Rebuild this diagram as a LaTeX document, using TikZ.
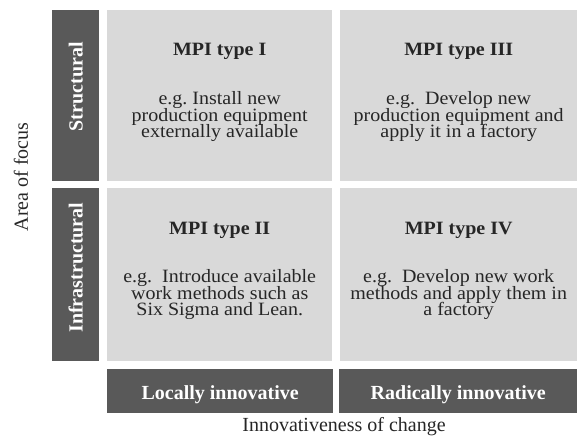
\documentclass[tikz,border=0pt]{standalone}
\usepackage{fontspec}
\setmainfont{Liberation Serif}
\usepackage{tikz}
\usetikzlibrary{positioning,calc}
\definecolor{cellfill}{HTML}{D9D9D9}
\definecolor{barfill}{HTML}{595959}
\definecolor{inktext}{HTML}{262626}
\frenchspacing
\newcommand\cellfont{\fontsize{20}{18}\selectfont\lineskiplimit=-50pt\relax}
\tikzset{
  cell/.style    = {fill=cellfill,inner sep=0pt,anchor=north west},
  bar/.style     = {fill=barfill,inner sep=0pt,anchor=north west},
  head/.style    = {anchor=base,inner sep=0pt,text=inktext,
                    yscale=0.94,transform shape,font=\cellfont\bfseries},
  % base of a multi-line node sits on its last line
  body/.style    = {anchor=base,inner sep=0pt,align=center,text=inktext,
                    yscale=0.94,transform shape,font=\cellfont},
  barlbl/.style  = {inner sep=0pt,text=white,font=\cellfont\bfseries},
  axlbl/.style   = {inner sep=0pt,text=inktext,font=\cellfont},
}

\begin{document}
\begin{tikzpicture}[x=1pt,y=-1pt]
  \useasboundingbox (0,0) rectangle (578,443);

  % Quadrants
  \node[cell,minimum width=225pt,minimum height=171pt] (cellI)   at (107,10)  {};
  \node[cell,minimum width=237pt,minimum height=171pt] (cellIII) at (340,10)  {};
  \node[cell,minimum width=225pt,minimum height=173pt] (cellII)  at (107,188) {};
  \node[cell,minimum width=237pt,minimum height=173pt] (cellIV)  at (340,188) {};

  % Row and column headers
  \node[bar,minimum width=47pt,minimum height=171pt]  (barS) at (52,10)   {};
  \node[bar,minimum width=47pt,minimum height=173pt]  (barI) at (52,188)  {};
  \node[bar,minimum width=226pt,minimum height=44pt]  (barL) at (107,369) {};
  \node[bar,minimum width=238pt,minimum height=44pt]  (barR) at (339,369) {};

  \node[barlbl,rotate=90] (lblS) at ([yshift=9pt]barS.center) {Structural};
  \node[barlbl,rotate=90] (lblI) at ([yshift=7pt]barI.center) {Infrastructural};
  \node[barlbl,anchor=base] (lblL) at ([yshift=-30pt]barL.north) {Locally innovative};
  \node[barlbl,anchor=base] (lblR) at ([yshift=-30pt]barR.north) {Radically innovative};

  % Quadrant texts
  \node[head] (hI)   at ([yshift=-46pt]cellI.north)   {MPI type I};
  \node[head] (hIII) at ([yshift=-46pt]cellIII.north) {MPI type III};
  \node[head] (hII)  at ([yshift=-47pt]cellII.north)  {MPI type II};
  \node[head] (hIV)  at ([yshift=-47pt]cellIV.north)  {MPI type IV};

  \node[body] (tI)   at ([yshift=-128pt]cellI.north)
      {e.g. Install new\\production equipment\\externally available};
  \node[body] (tIII) at ([yshift=-128pt]cellIII.north)
      {e.g.\ \ Develop new\\production equipment and\\apply it in a factory};
  \node[body] (tII)  at ([yshift=-128pt]cellII.north)
      {e.g.\ \ Introduce available\\work methods such as\\Six Sigma and Lean.};
  \node[body] (tIV)  at ([yshift=-128pt]cellIV.north)
      {e.g.\ \ Develop new work\\methods and apply them in\\a factory};

  % Axis titles
  \node[axlbl,rotate=90] (yaxis) at (21,177) {Area of focus};
  \node[axlbl,anchor=base] (xaxis) at (344,431) {Innovativeness of change};
\end{tikzpicture}
\end{document}
